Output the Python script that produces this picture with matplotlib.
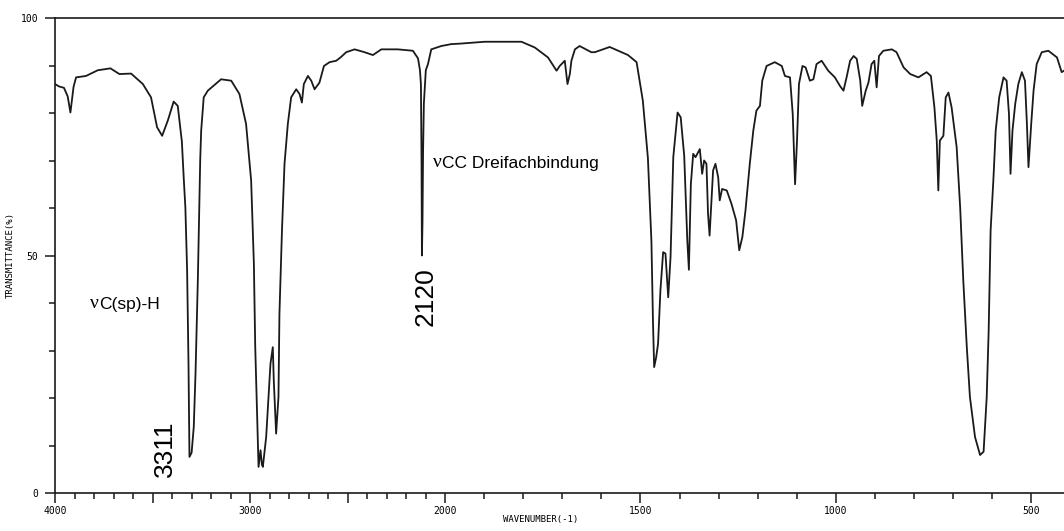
import numpy as np
import matplotlib
matplotlib.use('Agg')
import matplotlib.pyplot as plt
from matplotlib.ticker import FixedLocator, FixedFormatter

# IR spectrum (wavenumber in cm-1, transmittance in %)
wavenumber = [
    4000, 3980, 3954, 3935, 3921, 3905, 3892, 3841, 3781, 3716, 3670, 3610,
    3550, 3508, 3477, 3451, 3422, 3392, 3371, 3350, 3340, 3332, 3323, 3316,
    3311, 3300, 3289, 3280, 3268, 3256, 3251, 3238, 3217, 3180, 3149, 3097,
    3055, 3021, 2995, 2981, 2974, 2964, 2957, 2947, 2940, 2935, 2918, 2906,
    2896, 2884, 2879, 2867, 2855, 2850, 2837, 2824, 2807, 2790, 2764, 2747,
    2735, 2725, 2704, 2687, 2670, 2645, 2622, 2593, 2559, 2537, 2508, 2465,
    2414, 2371, 2328, 2243, 2166, 2140, 2130, 2125, 2122, 2120, 2117, 2114,
    2110, 2100, 2089, 2072, 2021, 1985, 1963, 1899, 1805, 1771, 1737, 1715,
    1707, 1700, 1694, 1687, 1681, 1677, 1668, 1656, 1626, 1617, 1579, 1532,
    1510, 1494, 1481, 1472, 1468, 1465, 1460, 1455, 1449, 1442, 1436, 1429,
    1423, 1416, 1405, 1397, 1388, 1380, 1376, 1371, 1365, 1359, 1348, 1342,
    1337, 1331, 1327, 1323, 1318, 1314, 1308, 1301, 1297, 1291, 1279, 1267,
    1255, 1247, 1239, 1231, 1220, 1211, 1203, 1194, 1188, 1177, 1156, 1138,
    1130, 1117, 1110, 1104, 1099, 1094, 1085, 1077, 1066, 1057, 1049, 1036,
    1019, 1002, 989, 980, 972, 963, 954, 946, 937, 932, 923, 916, 908, 901,
    895, 889, 878, 856, 844, 826, 809, 788, 767, 756, 747, 741, 737, 733,
    724, 718, 711, 703, 690, 681, 673, 664, 656, 643, 630, 621, 613, 608,
    603, 596, 590, 581, 570, 562, 556, 552, 547, 540, 532, 523, 515, 510,
    506, 499, 493, 485, 472, 455, 433, 421, 415,
]
transmittance = [
    86.1, 85.6, 85.3, 83.5, 80.1, 85.5, 87.5, 87.8, 89.0, 89.4, 88.2, 88.3,
    86.1, 83.3, 77.0, 75.2, 78.4, 82.4, 81.5, 74.0, 66.0, 60.1, 46.8, 27.3,
    7.6, 8.5, 13.9, 25.2, 45.0, 70.0, 76.3, 83.3, 84.7, 86.0, 87.1, 86.8,
    84.0, 77.7, 65.8, 48.3, 30.7, 16.0, 5.5, 9.0, 6.0, 5.5, 11.8, 20.2,
    27.2, 30.7, 23.7, 12.5, 20.2, 37.7, 55.3, 69.3, 77.7, 83.3, 85.0, 84.0,
    82.2, 86.1, 87.8, 86.8, 85.0, 86.4, 89.9, 90.7, 91.0, 91.7, 92.8, 93.4,
    92.8, 92.2, 93.4, 93.4, 93.1, 91.5, 89.0, 86.0, 70.0, 50.0, 57.0, 72.0,
    82.0, 89.0, 90.3, 93.4, 94.1, 94.5, 94.6, 95.0, 95.0, 93.8, 91.7, 88.9,
    89.9, 90.5, 91.0, 86.1, 88.2, 91.0, 93.4, 94.1, 92.8, 92.8, 93.9, 92.2,
    90.7, 82.6, 70.5, 53.0, 36.0, 26.5, 28.5, 31.4, 42.6, 50.7, 50.4, 41.2,
    49.7, 70.7, 80.1, 79.1, 71.0, 53.0, 47.0, 65.0, 71.4, 70.7, 72.4, 67.2,
    70.0, 69.3, 58.8, 54.2, 61.6, 67.9, 69.3, 66.5, 61.6, 64.0, 63.7, 60.9,
    57.4, 51.1, 53.9, 59.5, 69.3, 76.3, 80.5, 81.5, 86.8, 89.9, 90.7, 89.9,
    87.8, 87.5, 79.8, 65.0, 74.2, 86.1, 89.9, 89.6, 86.8, 87.1, 90.3, 91.0,
    88.9, 87.5, 85.7, 84.7, 87.5, 91.0, 92.0, 91.4, 86.8, 81.5, 84.7, 86.4, 90.3, 91.0,
    85.4, 92.0, 93.1, 93.4, 92.8, 89.6, 88.2, 87.5, 88.6, 87.8, 81.2, 74.2, 63.7, 74.2,
    75.2, 83.3, 84.3, 81.2, 72.8, 60.1, 44.7, 30.7, 20.2, 11.8, 8.0, 8.7, 20.2, 34.2,
    55.3, 65.8, 76.3, 83.3, 87.5, 86.8, 79.8, 67.2, 76.3, 81.9, 86.1, 88.6, 86.8, 77.7,
    68.6, 77.7, 84.7, 90.3, 92.8, 93.1, 91.7, 88.6, 88.9,
]

major_ticks = [4000, 3500, 3000, 2500, 2000, 1500, 1000, 500]
major_labels = ['4000', '', '3000', '', '2000', '1500', '1000', '500']
minor_ticks = [w for w in range(4000, 400, -100) if w not in major_ticks]


# scale change at 2000 cm-1: the upper range is compressed by half
def fwd(w):
    w = np.asarray(w, dtype=float)
    return np.where(w <= 2000, w, 2000 + (w - 2000) / 2)


def inv(u):
    u = np.asarray(u, dtype=float)
    return np.where(u <= 2000, u, 2000 + (u - 2000) * 2)


line_color = '#1a1a1a'
tick_font = {'family': 'DejaVu Sans Mono', 'size': 7}

fig = plt.figure(figsize=(10.64, 5.31), dpi=100, facecolor='white')
ax = fig.add_axes([55 / 1064, 1 - 493 / 531, 1 - 55 / 1064, (493 - 18) / 531])

ax.plot(wavenumber, transmittance, color=line_color, linewidth=1.3)

ax.set_xscale('function', functions=(fwd, inv))
ax.set_xlim(4000, 415)
ax.set_ylim(0, 100)

ax.spines['right'].set_visible(False)
for s in ['left', 'bottom', 'top']:
    ax.spines[s].set_linewidth(1.2)
    ax.spines[s].set_color(line_color)

ax.xaxis.set_major_locator(FixedLocator(major_ticks))
ax.xaxis.set_major_formatter(FixedFormatter(major_labels))
ax.xaxis.set_minor_locator(FixedLocator(minor_ticks))
ax.yaxis.set_major_locator(FixedLocator([0, 50, 100]))
ax.yaxis.set_major_formatter(FixedFormatter(['0', '50', '100']))
ax.yaxis.set_minor_locator(FixedLocator(range(10, 100, 10)))

ax.tick_params(which='major', direction='out', length=7, width=1.1, color=line_color)
ax.tick_params(which='minor', direction='out', length=4, width=1.1, color=line_color)
ax.tick_params(axis='x', which='major', pad=2)
ax.tick_params(axis='y', which='major', pad=5)
for lbl in ax.get_xticklabels() + ax.get_yticklabels():
    lbl.set_fontfamily(tick_font['family'])
    lbl.set_fontsize(tick_font['size'])

ax.set_xlabel('WAVENUMBER(-1)', fontfamily='DejaVu Sans Mono', fontsize=6.5)
ax.set_ylabel('TRANSMITTANCE(%)', fontfamily='DejaVu Sans Mono', fontsize=6.5)
ax.xaxis.set_label_coords(0.4817, -0.046)
ax.yaxis.set_label_coords(-0.0396, 0.5)

# band annotations
nu1 = ax.text(3820, 39, 'ν', fontfamily='Liberation Serif', fontsize=14,
              va='baseline', color='black')
ax.annotate('C(sp)-H', xy=(1, 0), xycoords=nu1, fontfamily='Liberation Sans',
            fontsize=12.5, va='bottom', color='black')
nu2 = ax.text(2062, 68.6, 'ν', fontfamily='Liberation Serif', fontsize=14,
              va='baseline', color='black')
ax.annotate('CC Dreifachbindung', xy=(1, 0), xycoords=nu2,
            fontfamily='Liberation Sans', fontsize=12.5, va='bottom', color='black')

ax.text(3434, 9.3, '3311', rotation=90, ha='center', va='center',
        fontfamily='Liberation Sans', fontsize=19)
ax.text(2101, 41.3, '2120', rotation=90, ha='center', va='center',
        fontfamily='Liberation Sans', fontsize=19)

fig.savefig('out.png', dpi=100, facecolor='white')
